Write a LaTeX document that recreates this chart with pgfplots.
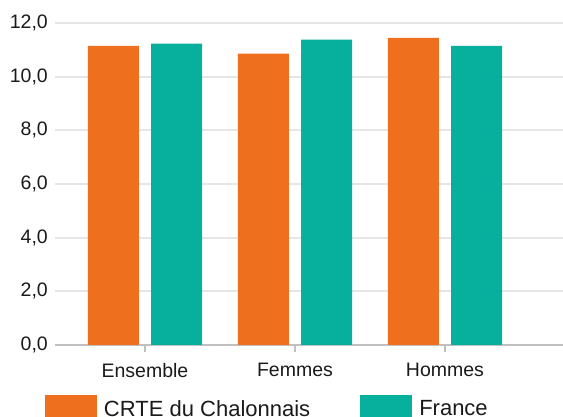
\documentclass[border=0pt]{standalone}
\usepackage{pgfplots}
\pgfplotsset{compat=1.18}
\usepackage{fontspec}
\setmainfont{Liberation Sans}
\definecolor{corange}{HTML}{EE701F}
\definecolor{cteal}{HTML}{06B09D}
\definecolor{gridc}{HTML}{E6E6E6}
\definecolor{axisc}{HTML}{C0C0C0}
\definecolor{txt}{HTML}{1A1A1A}
\begin{document}
\begin{tikzpicture}
\useasboundingbox (0,0) rectangle (563pt,417pt);
\begin{axis}[
  at={(55pt,72pt)}, anchor=south west,
  scale only axis, width=508pt, height=322pt,
  xmin=-0.6, xmax=2.787, ymin=0, ymax=12,
  axis x line*=bottom, axis y line*=left,
  y axis line style={draw=none},
  x axis line style={-, draw=axisc, line width=2.5pt},
  ymajorgrids, grid style={gridc, line width=2pt},
  ytick={0,2,4,6,8,10,12},
  yticklabel={\pgfmathprintnumber[fixed,fixed zerofill,precision=1,use comma,assume math mode=true]{\tick}},
  xtick={0,1,2}, xticklabels={Ensemble,Femmes,Hommes},
  tick align=outside, major tick length=7pt,
  ytick style={draw=none},
  xtick style={draw=axisc, line width=2pt},
  ticklabel style={font=\fontsize{19.5}{22}\selectfont, text=txt},
  yticklabel style={inner sep=0pt},
  xticklabel style={inner sep=0pt, yshift=-11pt},
  legend columns=2,
  legend cell align=left,
  legend style={at={(axis description cs:0,0)}, anchor=north west, xshift=-10pt, yshift=-50pt,
    draw=none, fill=none, inner sep=0pt, outer sep=0pt,
    font=\fontsize{22}{26}\selectfont, text=txt,
    nodes={inner sep=0pt},
    /tikz/every odd column/.append style={column sep=7pt},
    /tikz/every even column/.append style={column sep=50pt}},
  mylegend/.style={legend image code/.code={\fill[##1] (0pt,-10pt) rectangle (52pt,14pt);}},
]
\addplot[ybar, fill=corange, draw=none, bar width=51pt, bar shift=-31.7pt, mylegend]
  coordinates {(0,11.15) (1,10.86) (2,11.45)};
\addlegendentry{CRTE du Chalonnais}
\addplot[ybar, fill=cteal, draw=none, bar width=51pt, bar shift=31.7pt, mylegend]
  coordinates {(0,11.23) (1,11.38) (2,11.15)};
\addlegendentry{France}
\end{axis}
\end{tikzpicture}
\end{document}
